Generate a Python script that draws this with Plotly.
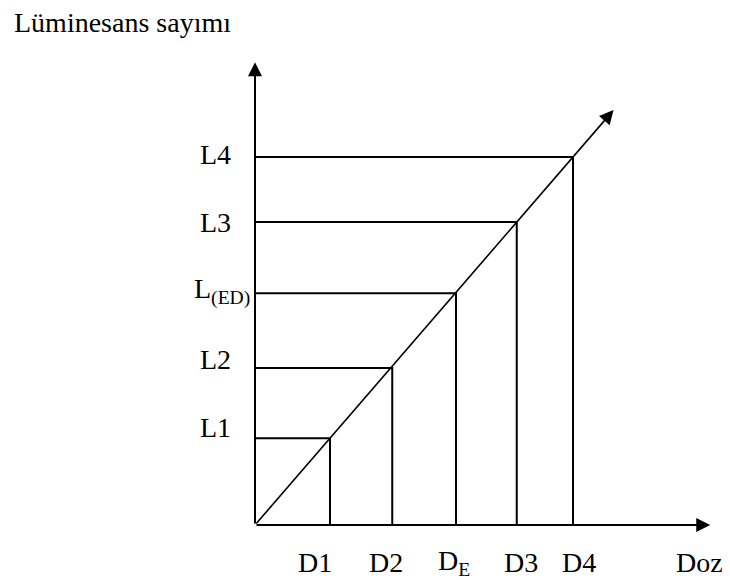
import plotly.graph_objects as go

# ---- data (arbitrary dose / luminescence units) ----
dose_labels = ["D1", "D2", "D<sub>E</sub>", "D3", "D4"]
lum_labels = ["L1", "L2", "L<sub>(ED)</sub>", "L3", "L4"]
dose_values = [1.0, 1.83, 2.68, 3.49, 4.24]
lum_values = [1.0, 1.81, 2.67, 3.49, 4.24]
x_axis_end = 6.07
y_axis_end = 5.33
diag_end = 4.78
x_axis_title = "Doz"
y_axis_title = "Lüminesans sayımı"

# ---- layout helpers ----
PAGE_OFF = 8               # default body margin of the html page
W, H = 730 - PAGE_OFF, 580 - PAGE_OFF
ox, oy = 255 - PAGE_OFF, 525 - PAGE_OFF   # origin pixel inside the figure
sx, sy = 75.0, 86.8        # px per unit
xr = [-ox / sx, (W - ox) / sx]
yr = [-(H - oy) / sy, oy / sy]

FONT = "Liberation Serif, Times New Roman, serif"
FS = 28

fig = go.Figure()

# guide lines (horizontal + vertical for each point)
gx, gy = [], []
for d, l in zip(dose_values, lum_values):
    gx += [0, d, d, None]
    gy += [l, l, 0, None]
fig.add_trace(go.Scatter(x=gx, y=gy, mode="lines",
                         line=dict(color="black", width=2),
                         hoverinfo="skip", showlegend=False))

annotations = []
# axes and diagonal arrows
for (tx, ty, w) in [(x_axis_end, 0, 2), (0, y_axis_end, 2), (diag_end, diag_end, 1.6)]:
    annotations.append(dict(x=tx, y=ty, ax=0, ay=0, xref="x", yref="y",
                            axref="x", ayref="y", text="", showarrow=True,
                            arrowhead=2, arrowsize=1.4 * 2 / w, arrowwidth=w,
                            arrowcolor="black", standoff=0, startstandoff=0))

# dose labels
d_xshift = [-15, -6, -2, 4, 6]
for lab, d, xs in zip(dose_labels, dose_values, d_xshift):
    annotations.append(dict(x=d, y=0, xref="x", yref="y", text=lab,
                            showarrow=False, xanchor="center", yanchor="middle",
                            xshift=xs, yshift=-37,
                            font=dict(family=FONT, size=FS, color="black")))
annotations.append(dict(x=x_axis_end, y=0, xref="x", yref="y", text=x_axis_title,
                        showarrow=False, xanchor="center", yanchor="middle",
                        xshift=-11, yshift=-37,
                        font=dict(family=FONT, size=FS, color="black")))

# luminescence labels
l_xshift = [-57, -57, -63, -57, -57]
l_yshift = [11, 8, 2, 0, 2]
for lab, l, xs, ys in zip(lum_labels, lum_values, l_xshift, l_yshift):
    annotations.append(dict(x=0, y=l, xref="x", yref="y", text=lab,
                            showarrow=False, xanchor="left", yanchor="middle",
                            xshift=xs, yshift=ys,
                            font=dict(family=FONT, size=FS, color="black")))

# y-axis title
annotations.append(dict(x=4 / W, y=1 - 14 / H, xref="paper", yref="paper",
                        text=y_axis_title, showarrow=False,
                        xanchor="left", yanchor="middle",
                        font=dict(family=FONT, size=FS, color="black")))

fig.update_layout(
    width=W, height=H,
    margin=dict(l=0, r=0, t=0, b=0),
    paper_bgcolor="white", plot_bgcolor="white",
    xaxis=dict(range=xr, visible=False, fixedrange=True),
    yaxis=dict(range=yr, visible=False, fixedrange=True),
    annotations=annotations,
    showlegend=False,
)

fig.write_html("out.html")
